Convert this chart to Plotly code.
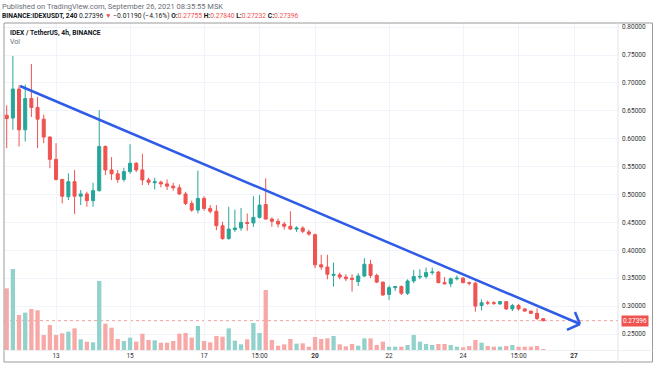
import plotly.graph_objects as go
import pandas as pd

# ---------------- data ----------------
start_time = "2021-09-11 16:00"
n_candles = 88
times = pd.date_range(start_time, periods=n_candles, freq="4h")

open_ = [0.642, 0.637, 0.689, 0.616, 0.672, 0.656, 0.635, 0.603, 0.563, 0.527,
         0.496, 0.523, 0.497, 0.501, 0.489, 0.507, 0.586, 0.544, 0.537, 0.527,
         0.541, 0.556, 0.544, 0.526, 0.521, 0.522, 0.519, 0.515, 0.512, 0.501,
         0.484, 0.472, 0.493, 0.475, 0.470, 0.444, 0.421, 0.437, 0.440, 0.450,
         0.449, 0.459, 0.482, 0.456, 0.452, 0.447, 0.443, 0.438, 0.440, 0.433,
         0.428, 0.374, 0.370, 0.355, 0.356, 0.352, 0.350, 0.344, 0.354, 0.375,
         0.355, 0.343, 0.321, 0.333, 0.335, 0.323, 0.345, 0.352, 0.353, 0.360,
         0.361, 0.342, 0.340, 0.349, 0.350, 0.342, 0.341, 0.301, 0.306, 0.306,
         0.304, 0.308, 0.295, 0.301, 0.295, 0.291, 0.287, 0.27755]
high = [0.660, 0.748, 0.696, 0.697, 0.734, 0.675, 0.643, 0.604, 0.592, 0.528,
        0.538, 0.544, 0.508, 0.505, 0.521, 0.651, 0.588, 0.567, 0.544, 0.548,
        0.590, 0.558, 0.573, 0.530, 0.530, 0.525, 0.527, 0.521, 0.518, 0.505,
        0.489, 0.543, 0.497, 0.481, 0.481, 0.451, 0.478, 0.473, 0.476, 0.466,
        0.497, 0.499, 0.529, 0.459, 0.457, 0.451, 0.470, 0.443, 0.443, 0.437,
        0.430, 0.392, 0.392, 0.378, 0.360, 0.357, 0.357, 0.359, 0.386, 0.383,
        0.358, 0.344, 0.337, 0.336, 0.337, 0.348, 0.365, 0.366, 0.369, 0.369,
        0.363, 0.352, 0.351, 0.355, 0.352, 0.344, 0.344, 0.312, 0.310, 0.309,
        0.309, 0.309, 0.304, 0.304, 0.296, 0.292, 0.296, 0.27840]
low = [0.583, 0.616, 0.586, 0.595, 0.639, 0.583, 0.592, 0.547, 0.525, 0.484,
       0.490, 0.465, 0.481, 0.478, 0.478, 0.505, 0.535, 0.526, 0.521, 0.523,
       0.537, 0.540, 0.517, 0.517, 0.509, 0.513, 0.508, 0.507, 0.499, 0.481,
       0.469, 0.466, 0.471, 0.466, 0.436, 0.419, 0.419, 0.433, 0.435, 0.435,
       0.442, 0.457, 0.455, 0.442, 0.441, 0.437, 0.437, 0.433, 0.431, 0.426,
       0.368, 0.365, 0.348, 0.335, 0.348, 0.345, 0.326, 0.336, 0.352, 0.350,
       0.341, 0.318, 0.311, 0.327, 0.320, 0.320, 0.341, 0.348, 0.349, 0.356,
       0.341, 0.339, 0.334, 0.346, 0.341, 0.337, 0.290, 0.292, 0.302, 0.302,
       0.302, 0.293, 0.291, 0.292, 0.290, 0.286, 0.275, 0.27232]
close = [0.636, 0.689, 0.616, 0.672, 0.656, 0.635, 0.603, 0.563, 0.527, 0.497,
         0.523, 0.497, 0.501, 0.489, 0.507, 0.586, 0.544, 0.537, 0.527, 0.541,
         0.556, 0.544, 0.526, 0.522, 0.523, 0.519, 0.515, 0.512, 0.501, 0.484,
         0.472, 0.493, 0.475, 0.470, 0.444, 0.421, 0.438, 0.440, 0.450, 0.448,
         0.459, 0.481, 0.456, 0.452, 0.447, 0.443, 0.438, 0.440, 0.434, 0.429,
         0.374, 0.370, 0.357, 0.357, 0.352, 0.349, 0.348, 0.354, 0.375, 0.355,
         0.343, 0.320, 0.333, 0.335, 0.323, 0.345, 0.353, 0.353, 0.360, 0.361,
         0.342, 0.340, 0.349, 0.350, 0.342, 0.341, 0.300, 0.306, 0.3055, 0.305,
         0.308, 0.295, 0.301, 0.295, 0.291, 0.287, 0.2776, 0.27396]
volume = [185, 243, 105, 112, 123, 119, 45, 75, 45, 50,
          55, 65, 32, 25, 23, 207, 79, 67, 33, 27,
          37, 25, 49, 30, 29, 22, 22, 27, 49, 51,
          37, 72, 27, 23, 42, 40, 65, 28, 17, 32,
          81, 51, 180, 30, 13, 17, 33, 19, 20, 10,
          39, 33, 35, 42, 17, 11, 18, 13, 35, 35,
          15, 25, 10, 10, 10, 15, 45, 25, 18, 15,
          18, 18, 15, 10, 8, 12, 30, 22, 12, 10,
          10, 12, 15, 10, 10, 10, 12, 3]
volume = [v * 1000 for v in volume]

last_price = 0.27396

# drawn trendline (author's drawing) and its open arrow head
trend_t = ["2021-09-12 00:38", "2021-09-27 03:50"]
trend_p = [0.6944, 0.2679]
arrow_arm_t = ["2021-09-27 00:36", "2021-09-26 19:24"]
arrow_arm_p = [0.2894, 0.2572]

tick_times = ["2021-09-13", "2021-09-15", "2021-09-17", "2021-09-18 12:00",
              "2021-09-20", "2021-09-22", "2021-09-24", "2021-09-25 12:00",
              "2021-09-27"]
tick_text = ["13", "15", "17", "15:00", "<b>20</b>", "22", "24", "15:00", "<b>27</b>"]
price_ticks = [0.25, 0.30, 0.35, 0.40, 0.45, 0.50, 0.55, 0.60, 0.65, 0.70, 0.75, 0.80]

# ---------------- styling ----------------
UP, DOWN = "#26a69a", "#ef5350"
UP_V, DOWN_V = "#92d2cc", "#f7a9a7"
FONT = "Roboto"
W, H = 654, 366
PL, PR, PT, PB = 4, 618, 23, 350


def px(x):
    return (x - PL) / (PR - PL)


def py(y):
    return (PB - y) / (PB - PT)


vol_colors = [DOWN_V if c < o else UP_V for o, c in zip(open_, close)]

fig = go.Figure()
fig.add_trace(go.Bar(x=times, y=volume, marker=dict(color=vol_colors, line=dict(width=0)),
                     yaxis="y", hoverinfo="skip", showlegend=False))
fig.add_trace(go.Candlestick(x=times, open=open_, high=high, low=low, close=close,
                             yaxis="y2",
                             increasing=dict(line=dict(color=UP, width=1), fillcolor=UP),
                             decreasing=dict(line=dict(color=DOWN, width=1), fillcolor=DOWN),
                             whiskerwidth=0, showlegend=False))

t0 = pd.Timestamp(start_time)
x_range = [t0 - pd.Timedelta(hours=1.76), t0 + pd.Timedelta(hours=396.5)]

# price range from pixel calibration (0.05 per 27.9 px, 0.25 at y=334)
ppp = 0.05 / 27.9
y_lo = 0.25 - (PB - 334) * ppp
y_hi = 0.25 + (334 - PT) * ppp

fig.update_layout(
    width=W, height=H,
    margin=dict(l=PL, r=W - PR, t=PT, b=H - PB, pad=0),
    paper_bgcolor="white", plot_bgcolor="white",
    font=dict(family=FONT, size=7, color="#131722"),
    bargap=0.3,
    showlegend=False,
    xaxis=dict(type="date", range=x_range, rangeslider=dict(visible=False),
               tickvals=tick_times, ticktext=tick_text,
               tickfont=dict(size=6.5, color="#333"),
               showgrid=True, gridcolor="#f0f3fa", gridwidth=1,
               zeroline=False, showline=False, ticks=""),
    yaxis=dict(range=[0, max(volume) * (PB - PT) / 81], visible=False,
               showgrid=False, zeroline=False),
    yaxis2=dict(overlaying="y", side="right", range=[y_lo, y_hi],
                tickvals=price_ticks, tickformat=".5f",
                tickfont=dict(size=6.5, color="#333"),
                showgrid=True, gridcolor="#f0f3fa", gridwidth=1,
                zeroline=False, showline=False, ticks="", ticklabelstandoff=3),
)

shapes = []
# last price dotted line
shapes.append(dict(type="line", xref="paper", x0=0, x1=1, yref="y2", y0=last_price, y1=last_price,
                   line=dict(color=DOWN, width=1, dash="dot"), opacity=0.55, layer="below"))
# trendline
shapes.append(dict(type="line", xref="x", yref="y2", x0=trend_t[0], y0=trend_p[0],
                   x1=trend_t[1], y1=trend_p[1], line=dict(color="#2f5ce6", width=2.5)))
for at, ap in zip(arrow_arm_t, arrow_arm_p):
    shapes.append(dict(type="line", xref="x", yref="y2", x0=trend_t[1], y0=trend_p[1],
                       x1=at, y1=ap, line=dict(color="#2f5ce6", width=2.5)))
# frame
shapes.append(dict(type="rect", xref="paper", yref="paper", x0=px(4), x1=px(652.5),
                   y0=py(362), y1=py(23), line=dict(color="#9a9a9a", width=1)))
shapes.append(dict(type="line", xref="paper", yref="paper", x0=1, x1=1, y0=py(362), y1=py(23),
                   line=dict(color="#e0e3eb", width=1)))
shapes.append(dict(type="line", xref="paper", yref="paper", x0=px(4), x1=px(652.5),
                   y0=py(350.5), y1=py(350.5), line=dict(color="#eef0f4", width=1)))
fig.update_layout(shapes=shapes)

red = lambda s: f'<span style="color:{DOWN}">{s}</span>'
line2 = ("<b>BINANCE:IDEXUSDT, 240</b> 0.27396 " + red("▼") + " −0.01190 (−4.16%) "
         "<b>O:</b>" + red("0.27755") + " <b>H:</b>" + red("0.27840") +
         " <b>L:</b>" + red("0.27232") + " <b>C:</b>" + red("0.27396"))

annotations = [
    dict(text="Published on TradingView.com, September 26, 2021 08:35:55 MSK",
         x=px(1), y=py(6.2), font=dict(size=7.5, color="#6a6d78")),
    dict(text=line2, x=px(1), y=py(15.5), font=dict(size=6.7, color="#131722")),
    dict(text="<b>IDEX / TetherUS, 4h, BINANCE</b>", x=px(9), y=py(33),
         font=dict(size=6.7, color="#131722")),
    dict(text="Vol", x=px(9), y=py(42), font=dict(size=7, color="#6a6d78")),
]
for a in annotations:
    a.update(xref="paper", yref="paper", xanchor="left", yanchor="middle",
             showarrow=False, borderpad=0)
annotations.append(dict(text=f"{last_price:.5f}", xref="paper", x=1, xanchor="left", xshift=3,
                        yref="y2", y=last_price, yanchor="middle", showarrow=False,
                        bgcolor=DOWN, font=dict(size=6.5, color="white"), borderpad=1))
fig.update_layout(annotations=annotations)

fig.write_html("out.html", config={"displayModeBar": False},
               post_script="document.body.style.margin='0';")
